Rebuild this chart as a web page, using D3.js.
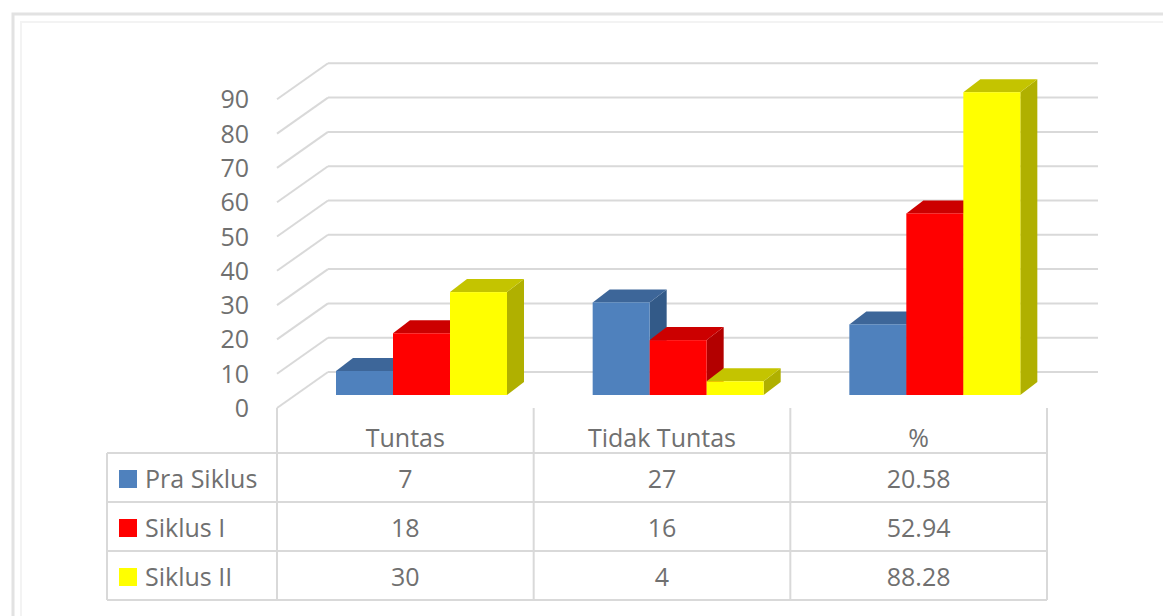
<!DOCTYPE html>
<html><head><meta charset="utf-8">
<script src="https://cdn.jsdelivr.net/npm/d3@7/dist/d3.min.js"></script>
<style>html,body{margin:0;padding:0;background:#fff;}svg{display:block;}</style>
</head><body>
<script>
const categories = ["Tuntas", "Tidak Tuntas", "%"];
const seriesNames = ["Pra Siklus", "Siklus I", "Siklus II"];
const praSiklus = [7, 27, 20.58];
const siklusI = [18, 16, 52.94];
const siklusII = [30, 4, 88.28];
const yTicks = [0, 10, 20, 30, 40, 50, 60, 70, 80, 90];
const seriesValues = [praSiklus, siklusI, siklusII];

const colors = {
  "Pra Siklus": {front: "#4f81bd", top: "#3d6699", side: "#335a88"},
  "Siklus I": {front: "#ff0000", top: "#cc0000", side: "#b30000"},
  "Siklus II": {front: "#ffff00", top: "#c4c400", side: "#b0b000"}
};

const W = 1163, H = 616;
const svg = d3.select("body").append("svg").attr("width", W).attr("height", H);
const font = "'Open Sans', sans-serif";
const textColor = "#707070";
const gridColor = "#d9d9d9";

// frame
svg.append("path").attr("d", `M13,${H} L13,14 L${W},14`).attr("fill", "none").attr("stroke", "#e2e2e2").attr("stroke-width", 3);
svg.append("path").attr("d", `M21,${H} L21,22 L${W},22`).attr("fill", "none").attr("stroke", "#f3f3f3").attr("stroke-width", 2);

// scales
const yFront = d3.scaleLinear().domain([0, 90]).range([408, 408 - 308.7]);
const wallDx = 51, wallDy = -36;
const barDy = -13, barDepthX = 17, barDepthY = -13;
const x0 = d3.scaleBand().domain(categories).range([277, 1047]);
const x1 = d3.scaleBand().domain(seriesNames).range([59, 230]);
const wallLeft = 277, wallRight = 1098;

// walls / gridlines
const g = svg.append("g");
yTicks.forEach(v => {
  const yf = yFront(v);
  g.append("line").attr("x1", wallLeft).attr("y1", yf).attr("x2", wallLeft + wallDx).attr("y2", yf + wallDy)
    .attr("stroke", gridColor).attr("stroke-width", 2);
  g.append("line").attr("x1", wallLeft + wallDx).attr("y1", yf + wallDy).attr("x2", wallRight).attr("y2", yf + wallDy)
    .attr("stroke", gridColor).attr("stroke-width", 2);
});

// y axis labels
svg.append("g").selectAll("text").data(yTicks).join("text")
  .attr("x", 249).attr("y", d => yFront(d)).attr("dy", "0.36em")
  .attr("text-anchor", "end").attr("font-family", font).attr("font-size", 25)
  .attr("fill", textColor).text(d => d);

// bars
const barsG = svg.append("g");
categories.forEach((cat, ci) => {
  seriesNames.forEach((s, si) => {
    const v = seriesValues[si][ci];
    const xl = x0(cat) + x1(s);
    const xr = xl + x1.bandwidth();
    const yt = yFront(v) + barDy;
    const yb = yFront(0) + barDy;
    const c = colors[s];
    // side face
    barsG.append("path").attr("d",
      `M${xr},${yt} L${xr + barDepthX},${yt + barDepthY} L${xr + barDepthX},${yb + barDepthY} L${xr},${yb} Z`)
      .attr("fill", c.side);
    // top face
    barsG.append("path").attr("d",
      `M${xl},${yt} L${xl + barDepthX},${yt + barDepthY} L${xr + barDepthX},${yt + barDepthY} L${xr},${yt} Z`)
      .attr("fill", c.top);
    // front face
    barsG.append("rect").attr("x", xl).attr("y", yt).attr("width", x1.bandwidth()).attr("height", yb - yt)
      .attr("fill", c.front);
  });
});

// data table
const tG = svg.append("g");
const tableLeft = 107, tableRight = 1047;
const rowLines = [453, 502, 551, 600];
const headerY = 438;
const rowY = [479, 528, 577];
rowLines.forEach(y => {
  tG.append("line").attr("x1", tableLeft).attr("x2", tableRight).attr("y1", y).attr("y2", y)
    .attr("stroke", gridColor).attr("stroke-width", 2);
});
tG.append("line").attr("x1", tableLeft).attr("x2", tableLeft).attr("y1", 453).attr("y2", 600)
  .attr("stroke", gridColor).attr("stroke-width", 2);
const colEdges = [x0(categories[0])].concat(categories.map(c => x0(c) + x0.bandwidth()));
colEdges.forEach(x => {
  tG.append("line").attr("x1", x).attr("x2", x).attr("y1", 408).attr("y2", 600)
    .attr("stroke", gridColor).attr("stroke-width", 2);
});
categories.forEach(cat => {
  tG.append("text").attr("x", x0(cat) + x0.bandwidth() / 2).attr("y", headerY).attr("dy", "0.36em")
    .attr("text-anchor", "middle").attr("font-family", font).attr("font-size", 25).attr("fill", textColor).text(cat);
});
seriesNames.forEach((s, si) => {
  tG.append("rect").attr("x", 119).attr("y", rowY[si] - 9).attr("width", 18).attr("height", 18).attr("fill", colors[s].front);
  tG.append("text").attr("x", 145).attr("y", rowY[si]).attr("dy", "0.36em")
    .attr("font-family", font).attr("font-size", 25).attr("fill", textColor).text(s);
  categories.forEach((cat, ci) => {
    tG.append("text").attr("x", x0(cat) + x0.bandwidth() / 2).attr("y", rowY[si]).attr("dy", "0.36em")
      .attr("text-anchor", "middle").attr("font-family", font).attr("font-size", 25).attr("fill", textColor)
      .text(seriesValues[si][ci]);
  });
});
</script>
</body></html>
